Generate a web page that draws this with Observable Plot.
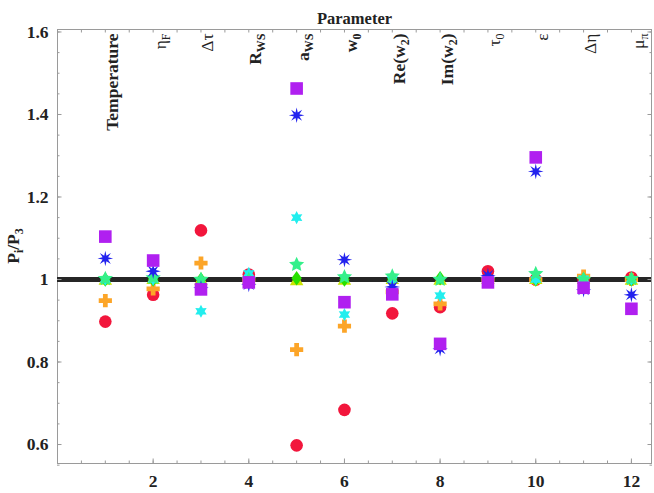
<!DOCTYPE html>
<html><head><meta charset="utf-8">
<script src="https://cdn.jsdelivr.net/npm/d3@7"></script>
<script src="https://cdn.jsdelivr.net/npm/@observablehq/plot@0.6"></script>
<style>body{margin:0;background:#fff;}</style>
</head><body><div id="chart"></div>
<script>
// ---- data ----
const params = [1, 2, 3, 4, 5, 6, 7, 8, 9, 10, 11, 12];
const paramLabels = ["Temperature", "η_F", "Δτ", "R_WS", "a_WS", "w_0", "Re(w_2)", "Im(w_2)", "τ_0", "ε", "Δη", "μ_π"];
const paramBold = [true, false, false, true, true, true, true, true, false, false, false, false];
const yMajorTicks = [0.6, 0.8, 1.0, 1.2, 1.4, 1.6];
const xMajorTicks = [2, 4, 6, 8, 10, 12];

const redCircle     = [0.898, 0.963, 1.119, 1.012, 0.598, 0.684, 0.918, 0.933, 1.020, 1.000, 1.000, 1.005];
const orangePlus    = [0.949, 0.977, 1.040, 1.000, 0.830, 0.887, 0.970, 0.941, 1.000, 1.000, 1.008, 1.000];
const yellowTri     = [0.998, 1.000, 0.998, 1.000, 0.997, 0.998, 1.000, 0.998, 1.000, 1.000, 1.000, 0.998];
const greenDiamond  = [1.000, 1.000, 1.000, 1.000, 1.003, 1.000, 1.002, 1.003, 1.000, 1.000, 1.000, 1.000];
const cyanStar      = [1.000, 1.000, 0.923, 1.015, 1.150, 0.915, 1.000, 0.961, 1.002, 1.000, 1.002, 1.000];
const springStar    = [1.002, 1.004, 1.000, 1.000, 1.036, 1.006, 1.008, 1.000, 1.000, 1.014, 1.000, 1.002];
const blueAsterisk  = [1.051, 1.020, 0.980, 0.988, 1.398, 1.048, 0.982, 0.832, 1.010, 1.262, 0.975, 0.963];
const purpleSquare  = [1.104, 1.046, 0.976, 0.993, 1.463, 0.945, 0.964, 0.844, 0.993, 1.296, 0.980, 0.929];

// ---- symbols ----
const rad = size => Math.sqrt(size / Math.PI);
function star(n, inner) {
  return {draw(ctx, size) {
    const R = rad(size), r = R * inner;
    for (let k = 0; k < 2 * n; k++) {
      const a = -Math.PI / 2 + k * Math.PI / n, rr = k % 2 ? r : R;
      const x = rr * Math.cos(a), y = rr * Math.sin(a);
      k ? ctx.lineTo(x, y) : ctx.moveTo(x, y);
    }
    ctx.closePath();
  }};
}
const symSquare = {draw(ctx, size) { const h = rad(size); ctx.rect(-h, -h, 2 * h, 2 * h); }};
const symPlus = {draw(ctx, size) {
  const R = rad(size), t = R * 0.36;
  ctx.moveTo(-t, -R); ctx.lineTo(t, -R); ctx.lineTo(t, -t); ctx.lineTo(R, -t); ctx.lineTo(R, t);
  ctx.lineTo(t, t); ctx.lineTo(t, R); ctx.lineTo(-t, R); ctx.lineTo(-t, t); ctx.lineTo(-R, t);
  ctx.lineTo(-R, -t); ctx.lineTo(-t, -t); ctx.closePath();
}};
const symDiamond = {draw(ctx, size) { const R = rad(size); ctx.moveTo(0, -R); ctx.lineTo(R * 0.72, 0); ctx.lineTo(0, R); ctx.lineTo(-R * 0.72, 0); ctx.closePath(); }};
const symTri = {draw(ctx, size) { const R = rad(size); ctx.moveTo(0, -R); ctx.lineTo(R * 0.9, R * 0.6); ctx.lineTo(-R * 0.9, R * 0.6); ctx.closePath(); }};

const series = [
  {values: redCircle,    fill: "#f2163c", symbol: "circle",   r: 6.3},
  {values: orangePlus,   fill: "#fca528", symbol: symPlus,    r: 6.6},
  {values: yellowTri,    fill: "#c9e400", symbol: symTri,     r: 7.5},
  {values: greenDiamond, fill: "#28e000", symbol: symDiamond, r: 7.2},
  {values: cyanStar,     fill: "#22eeee", symbol: star(6, 0.55), r: 6.6},
  {values: springStar,   fill: "#34f08a", symbol: star(5, 0.47), r: 8.0},
  {values: blueAsterisk, fill: "#2222ee", symbol: star(8, 0.38), r: 7.8},
  {values: purpleSquare, fill: "#b020f0", symbol: symSquare,  r: 6.3}
];

const yMinor = d3.range(0.55, 1.6001, 0.05);
const xMinor = d3.range(0.5, 12.01, 0.5);
const gray = "#9a9a9a";
const ink = "#222";
const fs = 17.5;

const marks = [
  Plot.frame({stroke: gray}),
  Plot.ruleY([1], {stroke: "#262626", strokeWidth: 5}),
  // ticks
  Plot.axisY(yMinor, {anchor: "left", tickSize: -2.5, fill: "none", stroke: gray}),
  Plot.axisY(yMajorTicks, {anchor: "left", tickSize: -4.5, fill: "none", stroke: gray}),
  Plot.axisY(yMinor, {anchor: "right", tickSize: -2.5, fill: "none", stroke: gray}),
  Plot.axisY(yMajorTicks, {anchor: "right", tickSize: -4.5, fill: "none", stroke: gray}),
  Plot.axisX(xMinor, {anchor: "bottom", tickSize: -2.5, fill: "none", stroke: gray}),
  Plot.axisX(xMajorTicks, {anchor: "bottom", tickSize: -4.5, fill: "none", stroke: gray}),
  Plot.axisX(xMinor, {anchor: "top", tickSize: -2.5, fill: "none", stroke: gray}),
  // tick labels
  Plot.axisY(yMajorTicks, {anchor: "left", tickSize: 0, tickPadding: 9, label: null, fill: ink, fontWeight: "bold", fontSize: fs,
    tickFormat: d => d === 1 ? "1" : d.toFixed(1)}),
  Plot.axisX(xMajorTicks, {anchor: "bottom", tickSize: 0, tickPadding: 11, label: null, fill: ink, fontWeight: "bold", fontSize: fs,
    tickFormat: d => String(d)}),
  // parameter labels
  Plot.text(params.filter((p, i) => paramBold[i]), {x: d => d, text: d => paramLabels[d - 1], frameAnchor: "top",
    dy: 4, rotate: -90, textAnchor: "end", fill: ink, fontWeight: "bold", fontSize: fs}),
  Plot.text(params.filter((p, i) => !paramBold[i]), {x: d => d, text: d => paramLabels[d - 1], frameAnchor: "top",
    dy: 4, rotate: -90, textAnchor: "end", fill: ink, fontWeight: "normal", fontSize: fs}),
  Plot.text(["Parameter"], {text: d => d, frameAnchor: "top", dy: -17, fill: ink, fontWeight: "bold", fontSize: 16.5}),
  Plot.text(["P_i/P_3"], {text: d => d, frameAnchor: "left", dx: -44, rotate: -90, fill: ink, fontWeight: "bold", fontSize: fs})
];
for (const s of series) {
  marks.push(Plot.dot(params, {x: d => d, y: (d, i) => s.values[i], fill: s.fill, symbol: s.symbol, r: s.r, stroke: "none"}));
}

const chart = Plot.plot({
  width: 654, height: 493,
  marginLeft: 57, marginRight: 3, marginTop: 29, marginBottom: 30,
  x: {domain: [0, 12.42]},
  y: {domain: [0.554, 1.606]},
  style: {fontFamily: "'Liberation Serif', 'Times New Roman', serif", fontSize: "17.5px", color: ink, background: "#fff"},
  marks
});

// subscripts
let yTitle = null;
d3.select(chart).selectAll("text").each(function() {
  const s = this.textContent;
  if (!s.includes("_")) return;
  if (s === "P_i/P_3") yTitle = this;
  const el = d3.select(this);
  el.text("");
  const re = /_([^)/]+)/g;
  let last = 0, m, shifted = false;
  while ((m = re.exec(s))) {
    const before = s.slice(last, m.index);
    if (before) el.append("tspan").attr("dy", shifted ? -4 : null).text(before);
    el.append("tspan").attr("dy", 4).attr("font-size", "12px").text(m[1]);
    shifted = true;
    last = re.lastIndex;
  }
  const rest = s.slice(last);
  if (rest) el.append("tspan").attr("dy", shifted ? -4 : null).text(rest);
});

document.getElementById("chart").appendChild(chart);

// centre the rotated y title on the plot frame
if (yTitle) {
  const sb = chart.getBoundingClientRect(), b = yTitle.getBoundingClientRect();
  const cy = b.top + b.height / 2 - sb.top;
  const want = (29 + (493 - 30)) / 2;
  yTitle.setAttribute("x", -(want - cy));
}
</script>
</body></html>
